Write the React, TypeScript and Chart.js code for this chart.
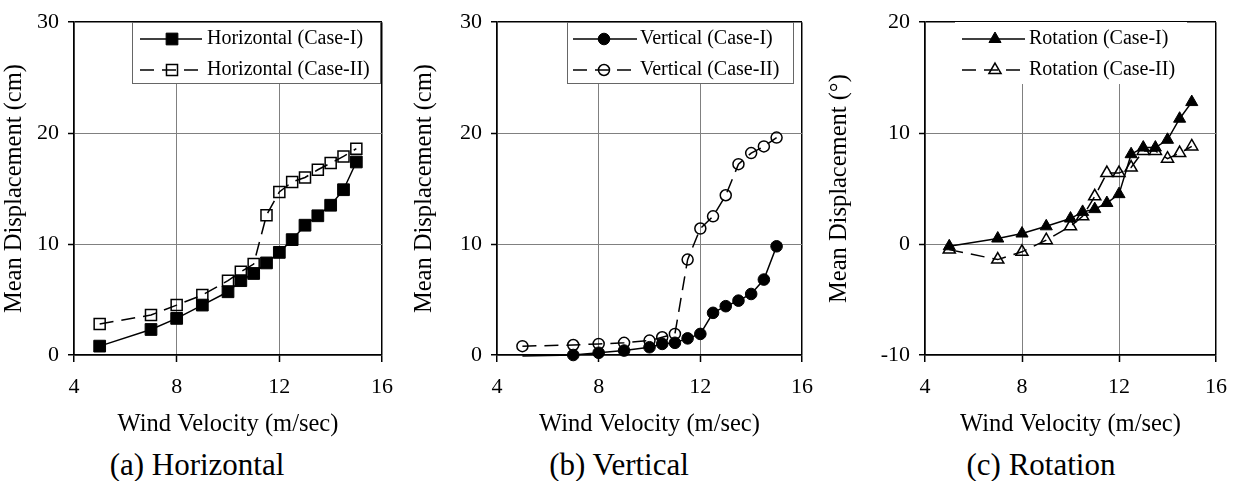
import React, { useEffect, useRef } from "react";
import { Chart, registerables } from "chart.js";

Chart.register(...registerables);

// ---------- data ----------
const windVelocity = [5, 7, 8, 9, 10, 10.5, 11, 11.5, 12, 12.5, 13, 13.5, 14, 14.5, 15];
const horizontalCase1 = [0.8, 2.3, 3.3, 4.5, 5.7, 6.7, 7.35, 8.3, 9.25, 10.4, 11.7, 12.55, 13.5, 14.9, 17.4];
const horizontalCase2 = [2.8, 3.6, 4.5, 5.4, 6.7, 7.5, 8.2, 12.6, 14.7, 15.6, 16.0, 16.7, 17.3, 17.9, 18.6];
const verticalCase1 = [-0.1, 0.0, 0.2, 0.4, 0.7, 1.0, 1.1, 1.5, 1.9, 3.8, 4.4, 4.9, 5.5, 6.8, 9.8];
const verticalCase2 = [0.8, 0.9, 1.0, 1.1, 1.3, 1.6, 1.9, 8.6, 11.4, 12.5, 14.4, 17.2, 18.2, 18.8, 19.6];
const rotationCase1 = [-0.2, 0.5, 0.95, 1.6, 2.3, 2.9, 3.15, 3.7, 4.5, 8.1, 8.7, 8.7, 9.4, 11.3, 12.8];
const rotationCase2 = [-0.5, -1.4, -0.7, 0.35, 1.6, 2.5, 4.3, 6.4, 6.4, 6.9, 8.4, 8.4, 7.7, 8.2, 8.8];

const xTicks = [4, 8, 12, 16];
const displacementTicks = [0, 10, 20, 30];
const rotationTicks = [-10, 0, 10, 20];

const xTitle = "Wind Velocity (m/sec)";
const yTitleCm = "Mean Displacement (cm)";
const yTitleDeg = "Mean Displacement (°)";

// ---------- styling ----------
const FONT = "'Liberation Serif', 'Times New Roman', serif";
const CANVAS_H = 439;

type MarkerStyle = "rect" | "circle" | "triangle";

interface SeriesDef {
  label: string;
  values: number[];
  marker: MarkerStyle;
  filled: boolean;
  radius: number;
  hideFirst?: boolean;
}

interface LegendDef {
  box: [number, number, number, number];
  border: boolean;
  lineX0: number;
  lineX1: number;
  markerX: number;
  textX: number;
  rows: number[];
}

interface PanelDef {
  left: number;
  width: number;
  yWidth: number;
  padRight: number;
  yTitle: string;
  yTicks: number[];
  series: SeriesDef[];
  legend: LegendDef;
  caption: string;
  captionX: number;
}

const panels: PanelDef[] = [
  {
    left: 0,
    width: 410,
    yWidth: 74,
    padRight: 28,
    yTitle: yTitleCm,
    yTicks: displacementTicks,
    series: [
      { label: "Horizontal (Case-I)", values: horizontalCase1, marker: "rect", filled: true, radius: 8.3 },
      { label: "Horizontal (Case-II)", values: horizontalCase2, marker: "rect", filled: false, radius: 7.8 },
    ],
    legend: { box: [132, 22, 248, 61], border: true, lineX0: 140, lineX1: 202, markerX: 172, textX: 207, rows: [39, 70] },
    caption: "(a) Horizontal",
    captionX: 197,
  },
  {
    left: 410,
    width: 415,
    yWidth: 87,
    padRight: 21,
    yTitle: yTitleCm,
    yTicks: displacementTicks,
    series: [
      { label: "Vertical (Case-I)", values: verticalCase1, marker: "circle", filled: true, radius: 5.8, hideFirst: true },
      { label: "Vertical (Case-II)", values: verticalCase2, marker: "circle", filled: false, radius: 5.5 },
    ],
    legend: { box: [157, 22, 226, 61], border: true, lineX0: 163, lineX1: 227, markerX: 194, textX: 230, rows: [39, 70] },
    caption: "(b) Vertical",
    captionX: 619,
  },
  {
    left: 825,
    width: 414,
    yWidth: 100,
    padRight: 13,
    yTitle: yTitleDeg,
    yTicks: rotationTicks,
    series: [
      { label: "Rotation (Case-I)", values: rotationCase1, marker: "triangle", filled: true, radius: 7 },
      { label: "Rotation (Case-II)", values: rotationCase2, marker: "triangle", filled: false, radius: 7 },
    ],
    legend: { box: [130, 22, 232, 62], border: false, lineX0: 137, lineX1: 200, markerX: 170, textX: 204, rows: [39, 70] },
    caption: "(c) Rotation",
    captionX: 1041,
  },
];

const DASH = [14, 8];

function drawMarker(ctx: CanvasRenderingContext2D, style: MarkerStyle, x: number, y: number, r: number, filled: boolean) {
  ctx.save();
  ctx.setLineDash([]);
  ctx.beginPath();
  if (style === "rect") {
    const s = Math.SQRT1_2 * r;
    ctx.rect(x - s, y - s, 2 * s, 2 * s);
  } else if (style === "circle") {
    ctx.arc(x, y, r, 0, Math.PI * 2);
  } else {
    const k = (2 * Math.PI) / 3;
    ctx.moveTo(x, y - r);
    ctx.lineTo(x + Math.sin(k) * r, y - Math.cos(k) * r);
    ctx.lineTo(x + Math.sin(2 * k) * r, y - Math.cos(2 * k) * r);
    ctx.closePath();
  }
  if (filled) {
    ctx.fillStyle = "#000";
    ctx.fill();
    ctx.lineWidth = 1;
  } else {
    ctx.lineWidth = 1.5;
  }
  ctx.strokeStyle = "#000";
  ctx.stroke();
  ctx.restore();
}

function makeLegendPlugin(panel: PanelDef) {
  return {
    id: "boxLegend",
    afterDraw(chart: Chart) {
      const ctx = chart.ctx;
      const lg = panel.legend;
      ctx.save();
      const [bx, by, bw, bh] = lg.box;
      ctx.fillStyle = "#fff";
      ctx.fillRect(bx, by, bw, bh);
      if (lg.border) {
        ctx.strokeStyle = "#666";
        ctx.lineWidth = 1;
        ctx.strokeRect(bx + 0.5, by + 0.5, bw, bh);
      }
      panel.series.forEach((s, i) => {
        const y = lg.rows[i];
        ctx.beginPath();
        ctx.strokeStyle = "#000";
        ctx.lineWidth = 1.5;
        ctx.setLineDash(s.filled ? [] : DASH);
        ctx.moveTo(lg.lineX0, y);
        ctx.lineTo(lg.lineX1, y);
        ctx.stroke();
        ctx.setLineDash([]);
        drawMarker(ctx, s.marker, lg.markerX, y, s.radius, s.filled);
        ctx.fillStyle = "#000";
        ctx.font = `20px ${FONT}`;
        ctx.textBaseline = "middle";
        ctx.textAlign = "left";
        ctx.fillText(s.label, lg.textX, y);
      });
      ctx.restore();
    },
  };
}

function PanelChart({ panel }: { panel: PanelDef }) {
  const ref = useRef<HTMLCanvasElement | null>(null);
  useEffect(() => {
    if (!ref.current) return;
    const yMin = panel.yTicks[0];
    const yMax = panel.yTicks[panel.yTicks.length - 1];
    const datasets = panel.series.map((s) => ({
      label: s.label,
      data: windVelocity.map((x, i) => ({ x, y: s.values[i] })),
      borderColor: "#000",
      borderWidth: 1.5,
      borderDash: s.filled ? [] : DASH,
      pointStyle: s.marker,
      pointRadius: s.values.map((_, i) => (s.hideFirst && i === 0 ? 0 : s.radius)),
      pointBackgroundColor: s.filled ? "#000" : "rgba(0,0,0,0)",
      pointBorderColor: "#000",
      pointBorderWidth: s.filled ? 1 : 1.5,
      tension: 0,
      fill: false,
      clip: false as any,
    }));
    const isEdge = (c: any, min: number, max: number) =>
      c.tick && (c.tick.value === min || c.tick.value === max);
    const chart = new Chart(ref.current, {
      type: "line",
      data: { datasets },
      plugins: [makeLegendPlugin(panel)],
      options: {
        animation: false,
        responsive: false,
        maintainAspectRatio: false,
        events: [],
        layout: { padding: { left: 0, right: panel.padRight, top: 14, bottom: 0 } },
        plugins: { legend: { display: false }, tooltip: { enabled: false }, title: { display: false } },
        scales: {
          x: {
            type: "linear",
            min: xTicks[0],
            max: xTicks[xTicks.length - 1],
            afterBuildTicks: (s: any) => {
              s.ticks = xTicks.map((v) => ({ value: v }));
            },
            afterFit: (s: any) => {
              s.height = 84;
            },
            grid: {
              color: (c: any) => (isEdge(c, xTicks[0], xTicks[xTicks.length - 1]) ? "#000" : "#808080"),
              lineWidth: (c: any) => (isEdge(c, xTicks[0], xTicks[xTicks.length - 1]) ? 1.5 : 1),
              tickLength: 7,
              tickColor: "#000",
              tickWidth: 1.5,
            },
            border: { color: "#000", width: 1.5 },
            ticks: { color: "#000", font: { family: FONT, size: 22 }, padding: 12, maxRotation: 0, autoSkip: false },
            title: { display: true, text: xTitle, color: "#000", font: { family: FONT, size: 24.5 }, padding: 0 },
          },
          y: {
            type: "linear",
            min: yMin,
            max: yMax,
            afterBuildTicks: (s: any) => {
              s.ticks = panel.yTicks.map((v) => ({ value: v }));
            },
            afterFit: (s: any) => {
              s.width = panel.yWidth;
            },
            grid: {
              color: (c: any) => (isEdge(c, yMin, yMax) ? "#000" : "#808080"),
              lineWidth: (c: any) => (isEdge(c, yMin, yMax) ? 1.5 : 1),
              tickLength: 6,
              tickColor: "#000",
              tickWidth: 1.5,
            },
            border: { color: "#000", width: 1.5 },
            ticks: { color: "#000", font: { family: FONT, size: 22 }, padding: 9, autoSkip: false },
            title: { display: true, text: panel.yTitle, color: "#000", font: { family: FONT, size: 24.5 }, padding: 0 },
          },
        },
      } as any,
    });
    return () => chart.destroy();
  }, [panel]);
  return (
    <canvas
      ref={ref}
      width={panel.width}
      height={CANVAS_H}
      style={{ position: "absolute", left: panel.left, top: 0, width: panel.width, height: CANVAS_H }}
    />
  );
}

export default function App() {
  return (
    <div style={{ position: "absolute", left: 0, top: 0, width: 1239, height: 481, background: "#fff", overflow: "hidden" }}>
      {panels.map((p, i) => (
        <PanelChart key={i} panel={p} />
      ))}
      {panels.map((p, i) => (
        <div
          key={"c" + i}
          style={{
            position: "absolute",
            left: p.captionX,
            top: 449,
            transform: "translateX(-50%)",
            fontFamily: FONT,
            fontSize: 31,
            lineHeight: "31px",
            whiteSpace: "nowrap",
            color: "#000",
          }}
        >
          {p.caption}
        </div>
      ))}
    </div>
  );
}
